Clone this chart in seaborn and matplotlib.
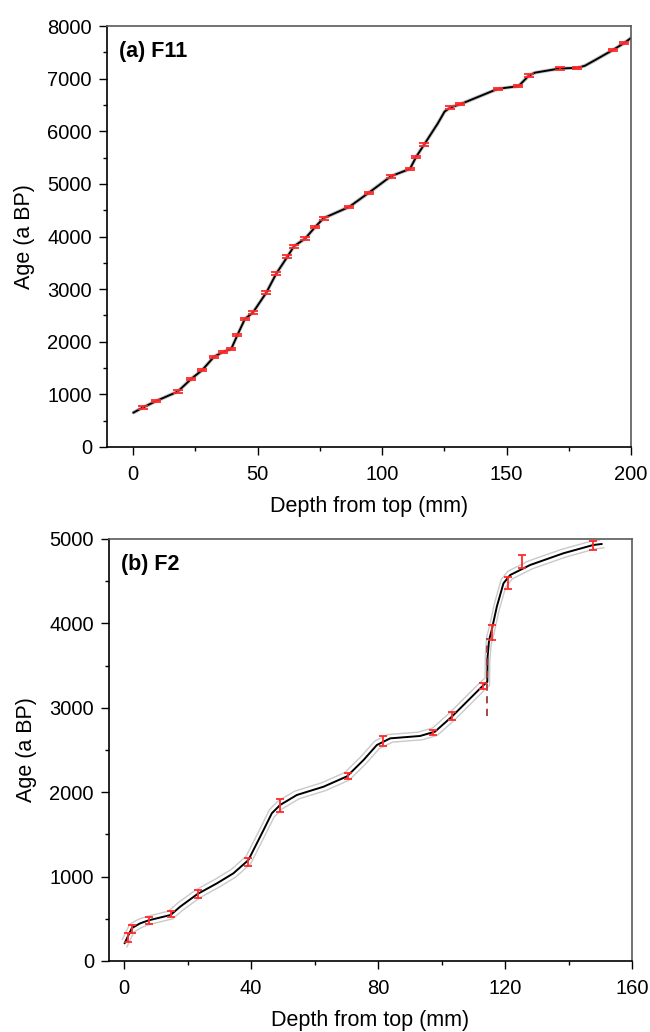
import numpy as np
import pandas as pd
import matplotlib
matplotlib.use("Agg")
import matplotlib.pyplot as plt
import seaborn as sns
from matplotlib.ticker import MultipleLocator

# ---------------- data: (a) F11 ----------------
f11_depth = [3.9, 9.3, 17.9, 23.3, 27.8, 32.4, 36.0, 39.4, 41.9, 44.9, 48.1, 53.5, 57.5,
             62.0, 64.6, 69.1, 73.1, 76.5, 86.8, 94.6, 103.6, 111.2, 113.7, 117.0, 127.4,
             131.5, 146.5, 154.8, 159.0, 171.5, 178.5, 192.6, 197.2]
f11_age = [750, 875, 1052, 1293, 1464, 1711, 1806, 1863, 2129, 2433, 2553, 2934, 3295,
           3618, 3815, 3960, 4180, 4348, 4563, 4829, 5146, 5285, 5513, 5754, 6451,
           6515, 6806, 6857, 7059, 7193, 7205, 7541, 7674]
f11_err = [25] * len(f11_depth)

f11_model_depth = [0.0, 3.9, 9.3, 17.9, 23.3, 27.8, 32.4, 36.0, 39.4, 41.9, 44.9, 48.1, 53.5,
                   57.5, 62.0, 64.6, 69.1, 73.1, 76.5, 86.8, 94.6, 103.6, 111.2, 113.7,
                   117.0, 122.4, 125.1, 127.4, 131.5, 146.5, 154.8, 159.0, 161.5, 171.5,
                   178.5, 181.5, 185.6, 192.6, 197.2, 200.5]
f11_model_age = [650, 750, 875, 1052, 1293, 1464, 1711, 1806, 1863, 2129, 2433, 2553, 2934,
                 3295, 3618, 3815, 3960, 4180, 4348, 4563, 4829, 5146, 5285, 5513,
                 5754, 6150, 6373, 6451, 6515, 6806, 6857, 7059, 7114, 7193,
                 7205, 7245, 7353, 7541, 7674, 7790]
f11_model_unc = [20] * len(f11_model_depth)

# ---------------- data: (b) F2 ----------------
f2_depth = [1.05, 2.6, 7.7, 14.6, 23.1, 39.0, 49.1, 70.5, 81.5, 97.4, 103.4, 112.9,
            116.0, 120.8, 125.4, 147.8]
f2_age = [276, 383, 482, 561, 794, 1173, 1845, 2194, 2602, 2708, 2903, 3256,
          3894, 4475, 4735, 4921]
f2_err = [50, 47, 43, 36, 49, 45, 80, 32, 59, 30, 43, 36, 85, 69, 75, 57]

f2_model_depth = [0.1, 1.05, 2.4, 5.0, 7.7, 14.6, 17.6, 23.1, 29.2, 34.4, 39.1, 43.9,
                  46.5, 49.1, 54.4, 62.8, 70.2, 75.4, 79.6, 83.8, 93.2, 97.9, 103.2,
                  112.7, 114.4, 114.5, 114.96, 115.8, 117.4, 119.5, 121.6, 127.9,
                  138.4, 147.8, 150.5]
f2_model_age = [209, 285, 390, 446, 482, 545, 643, 794, 920, 1039, 1195, 1552,
                1750, 1848, 1967, 2065, 2188, 2381, 2559, 2638, 2666, 2717, 2894,
                3250, 3309, 3606, 3803, 3922, 4198, 4475, 4573, 4692,
                4831, 4929, 4941]
f2_model_unc = [45] * len(f2_model_depth)

hiatus_depth = 114.3
hiatus_age = [2900, 3823]

# ---------------- style ----------------
sns.set_theme(style="ticks")
plt.rcParams["font.family"] = ["Liberation Sans", "DejaVu Sans"]
plt.rcParams.update({
    "text.color": "black", "axes.labelcolor": "black",
    "xtick.labelcolor": "black", "ytick.labelcolor": "black",
    "xtick.direction": "out", "ytick.direction": "out",
    "xtick.major.size": 5.8, "ytick.major.size": 5.8,
    "xtick.minor.size": 3.0, "ytick.minor.size": 3.0,
    "xtick.major.width": 1.0, "ytick.major.width": 1.0,
    "xtick.minor.width": 1.0, "ytick.minor.width": 1.0,
    "xtick.color": "black", "ytick.color": "black",
    "axes.linewidth": 1.2,
})

fig = plt.figure(figsize=(6.5, 10.32), dpi=100)
ax1 = fig.add_axes([107 / 650, 1 - 447 / 1032, 524 / 650, 421 / 1032])
ax2 = fig.add_axes([109 / 650, 1 - 961 / 1032, 523 / 650, 422 / 1032])


def draw(ax, md, ma, mu, dd_shift, d, a, e, capsize):
    md = np.array(md, float)
    ma = np.array(ma, float)
    mu = np.array(mu, float)
    up = pd.DataFrame({"d": md - dd_shift, "a": ma + mu})
    lo = pd.DataFrame({"d": md + dd_shift, "a": ma - mu})
    mid = pd.DataFrame({"d": md, "a": ma})
    for band in (up, lo):
        sns.lineplot(data=band, x="d", y="a", ax=ax, color="#c9c9c9", lw=1.0,
                     sort=False, estimator=None)
    sns.lineplot(data=mid, x="d", y="a", ax=ax, color="black", lw=1.4,
                 sort=False, estimator=None)
    ax.errorbar(d, a, yerr=e, fmt="none", ecolor="#ff2a2a", elinewidth=1.3,
                capsize=capsize, capthick=1.3, zorder=5)


draw(ax1, f11_model_depth, f11_model_age, f11_model_unc, 0.3,
     f11_depth, f11_age, f11_err, 3.8)
draw(ax2, f2_model_depth, f2_model_age, f2_model_unc, 0.7,
     f2_depth, f2_age, f2_err, 2.8)

ax2.plot([hiatus_depth, hiatus_depth], hiatus_age, color="#9b3a3a", lw=1.3,
         ls=(0, (4, 3)), zorder=4)

# axes
ax1.set_xlim(-10.5, 200)
ax1.set_ylim(0, 8000)
ax1.xaxis.set_major_locator(MultipleLocator(50))
ax1.xaxis.set_minor_locator(MultipleLocator(25))
ax1.yaxis.set_major_locator(MultipleLocator(1000))
ax1.yaxis.set_minor_locator(MultipleLocator(500))

ax2.set_xlim(-4.8, 160)
ax2.set_ylim(0, 5000)
ax2.xaxis.set_major_locator(MultipleLocator(40))
ax2.xaxis.set_minor_locator(MultipleLocator(20))
ax2.yaxis.set_major_locator(MultipleLocator(1000))
ax2.yaxis.set_minor_locator(MultipleLocator(500))

for ax, lab in ((ax1, "(a) F11"), (ax2, "(b) F2")):
    for s in ("top", "right"):
        ax.spines[s].set_color("#5a5a5a")
        ax.spines[s].set_visible(True)
    for s in ("left", "bottom"):
        ax.spines[s].set_color("black")
    ax.tick_params(axis="both", which="major", labelsize=14.5, pad=5,
                   labelcolor="black")
    ax.tick_params(axis="x", which="major", pad=7)
    ax.set_xlabel("Depth from top (mm)", fontsize=15.5, labelpad=9, color="black")
    ax.set_ylabel("Age (a BP)", fontsize=15.5, labelpad=9, color="black")
    ax.grid(False)
    ax.text(0.022, 0.94, lab, transform=ax.transAxes, fontsize=15.5,
            fontweight="bold", va="center", ha="left", color="black")

fig.savefig("out.png", dpi=100)
